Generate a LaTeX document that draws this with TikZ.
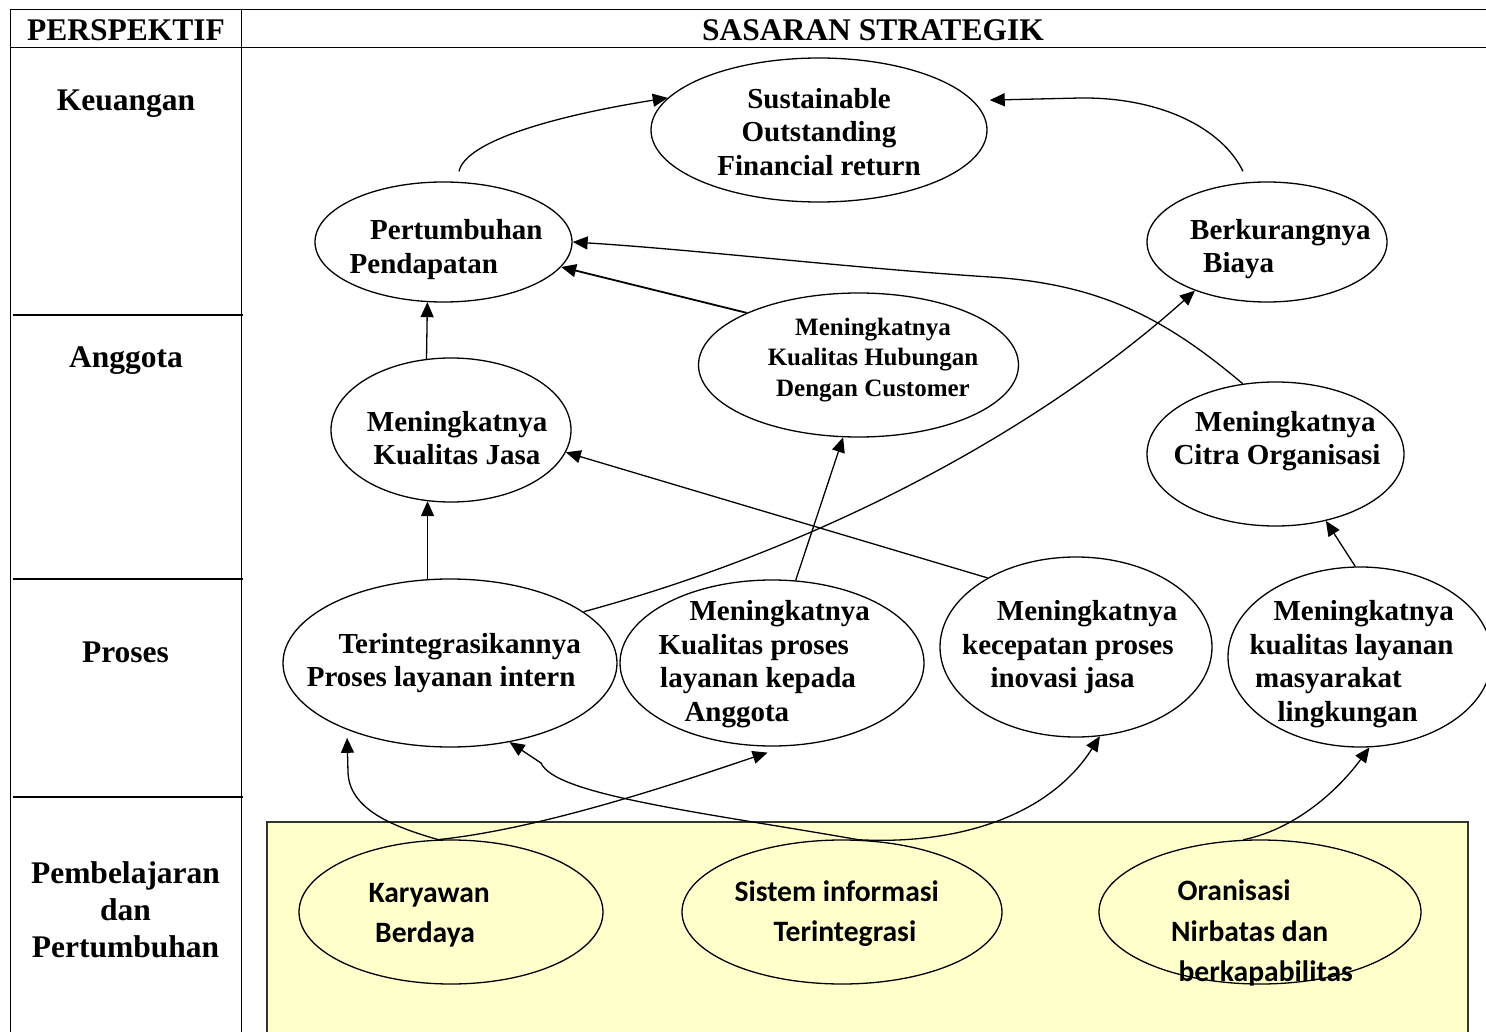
\documentclass[tikz,border=0pt]{standalone}
\usepackage{fontspec}
\setmainfont{Liberation Serif}
\newfontfamily\calib{Carlito}
\usetikzlibrary{arrows.meta,shapes.geometric}
\definecolor{yelfill}{HTML}{FFFFCC}
\begin{document}
\begin{tikzpicture}[x=1pt,y=-1pt,
  tbl/.style={line width=1pt},
  sepl/.style={line width=2pt},
  hdr/.style={font=\bfseries\fontsize{31.5}{37}\selectfont, inner sep=0pt, anchor=base},
  ell/.style={ellipse, draw, line width=1.3pt, fill=white, inner sep=0pt},
  yell/.style={ell, fill=yelfill},
  etx/.style={font=\bfseries\fontsize{29}{33.6}\selectfont, inner sep=0pt, align=left, anchor=west,
    execute at begin node=\strut, execute at end node=\strut},
  stx/.style={etx, font=\calib\bfseries\fontsize{29.6}{40.5}\selectfont},
  arr/.style={-{Triangle[length=15pt,width=13pt]}, line width=1.3pt}
]
\useasboundingbox (0,0) rectangle (1486,1032);

% table
\draw[tbl] (10,10) -- (1486,10);
\draw[tbl] (10,48) -- (1486,48);
\draw[tbl] (10,10) -- (10,1032);
\draw[tbl] (241,10) -- (241,1032);
\draw[sepl] (13,315) -- (243,315);
\draw[sepl] (13,579) -- (243,579);
\draw[sepl] (13,797) -- (243,797);

\node[hdr] (persp) at (126,41) {PERSPEKTIF};
\node[hdr] (sas) at (873,41) {SASARAN STRATEGIK};
\node[hdr] (keu) at (126,111) {Keuangan};
\node[hdr] (angg) at (126,367.5) {Anggota};
\node[hdr] (pros) at (125.5,662.7) {Proses};
\node[hdr, anchor=center, align=center, execute at begin node=\strut, execute at end node=\strut] (pemb) at (125.5,915.5) {Pembelajaran\\dan\\Pertumbuhan};

% yellow panel
\draw[fill=yelfill, draw=black!80, line width=1.3pt] (267,822) rectangle (1468,1045);

% ellipses
\node[ell, minimum width=336pt, minimum height=144pt] (fin) at (819,130) {};
\node[ell, minimum width=257pt, minimum height=120pt] (pend) at (443.5,242) {};
\node[ell, minimum width=240pt, minimum height=120pt] (biaya) at (1267,242) {};
\node[ell, minimum width=320pt, minimum height=144pt] (cust) at (858.5,365) {};
\node[ell, minimum width=240pt, minimum height=144pt] (jasa) at (451,430) {};
\node[ell, minimum width=257pt, minimum height=144pt] (citra) at (1275.5,454) {};
\node[ell, minimum width=334pt, minimum height=168pt] (intern) at (450,663) {};
\node[ell, minimum width=304pt, minimum height=166pt] (anggota) at (772,663) {};
\node[ell, minimum width=272pt, minimum height=180pt] (inov) at (1076,647) {};
\node[ell, minimum width=264pt, minimum height=180pt] (masy) at (1360,657) {};
\node[yell, minimum width=304pt, minimum height=144pt] (kary) at (451,912) {};
\node[yell, minimum width=320pt, minimum height=144pt] (sis) at (842,912) {};
\node[yell, minimum width=322pt, minimum height=144pt] (org) at (1260,912) {};

% texts
\node[etx, align=center, anchor=center] (fin-t) at (819,136.6) {Sustainable\\Outstanding\\Financial return};
\node[etx] (pend-t) at (349.5,251.7) {\hspace*{20.5pt}Pertumbuhan\\Pendapatan};
\node[etx] (biaya-t) at (1190,251) {Berkurangnya\\\hspace*{13pt}Biaya};
\node[etx, font=\bfseries\fontsize{25}{30.7}\selectfont, align=center, anchor=center] (cust-t) at (873,361.9) {Meningkatnya\\Kualitas Hubungan\\Dengan Customer};
\node[etx] (jasa-t) at (366.7,443) {Meningkatnya\\\hspace*{6.6pt}Kualitas Jasa};
\node[etx] (citra-t) at (1173.3,443) {\hspace*{21.7pt}Meningkatnya\\Citra Organisasi};
\node[etx] (intern-t) at (306.7,665) {\hspace*{31.6pt}Terintegrasikannya\\Proses layanan intern};
\node[etx] (anggota-t) at (658.3,665.9) {\hspace*{31pt}Meningkatnya\\Kualitas proses\\\hspace*{1.7pt}layanan kepada\\\hspace*{26pt}Anggota};
\node[etx] (inov-t) at (962,649.2) {\hspace*{34.7pt}Meningkatnya\\kecepatan proses\\\hspace*{28.3pt}inovasi jasa};
\node[etx] (masy-t) at (1249.3,665.9) {\hspace*{24pt}Meningkatnya\\kualitas layanan\\\hspace*{5.7pt}masyarakat\\\hspace*{28pt}lingkungan};
\node[stx] (kary-t) at (368.3,918.8) {Karyawan\\\hspace*{6.7pt}Berdaya};
\node[stx] (sis-t) at (734.3,917) {Sistem informasi\\\hspace*{39pt}Terintegrasi};
\node[stx] (org-t) at (1171,936.7) {\hspace*{6.3pt}Oranisasi\\Nirbatas dan\\\hspace*{7.3pt}berkapabilitas};

% connectors
\draw[arr] ([xshift=15.5pt,yshift=10pt]pend.north) .. controls (466,140) and (560,115) .. (fin.168);
\draw[arr] ([xshift=-24pt,yshift=10pt]biaya.north) .. controls (1222,128) and (1160,97) .. (1080,98) -- ([xshift=17pt]fin.11);
\draw[arr, line width=1.8pt] (cust.155) -- (pend.-12);
\draw[arr] (citra.115) .. controls (1165,318) and (1100,284) .. (990,277) .. controls (850,268) and (700,250) .. (pend.east);
\draw[arr] (intern.21) .. controls (830,545) and (1045,425) .. (biaya.214);
\draw[arr] (anggota.74) -- (cust.-102);
\draw[arr] (inov.142) -- (jasa.-11);
\draw[arr] (intern.105) -- (intern.105 |- jasa.-109);
\draw[arr] (jasa.109) -- (pend.-105);
\draw[arr] (masy.93) -- (citra.-53);
\draw[arr] (kary.100) .. controls (390,826) and (349,808) .. (348,772) -- ([yshift=-8pt]intern.-147);
\draw[arr] (kary.100) .. controls (550,828) and (700,775) .. ([yshift=-6pt]anggota.-93);
\draw[arr] (sis.77) .. controls (700,812) and (555,795) .. (541,763) -- (intern.-53);
\draw[arr] (sis.77) .. controls (960,845) and (1050,815) .. (inov.-75);
\draw[arr] (org.103) .. controls (1300,828) and (1342,785) .. (masy.-84);
\end{tikzpicture}
\end{document}
